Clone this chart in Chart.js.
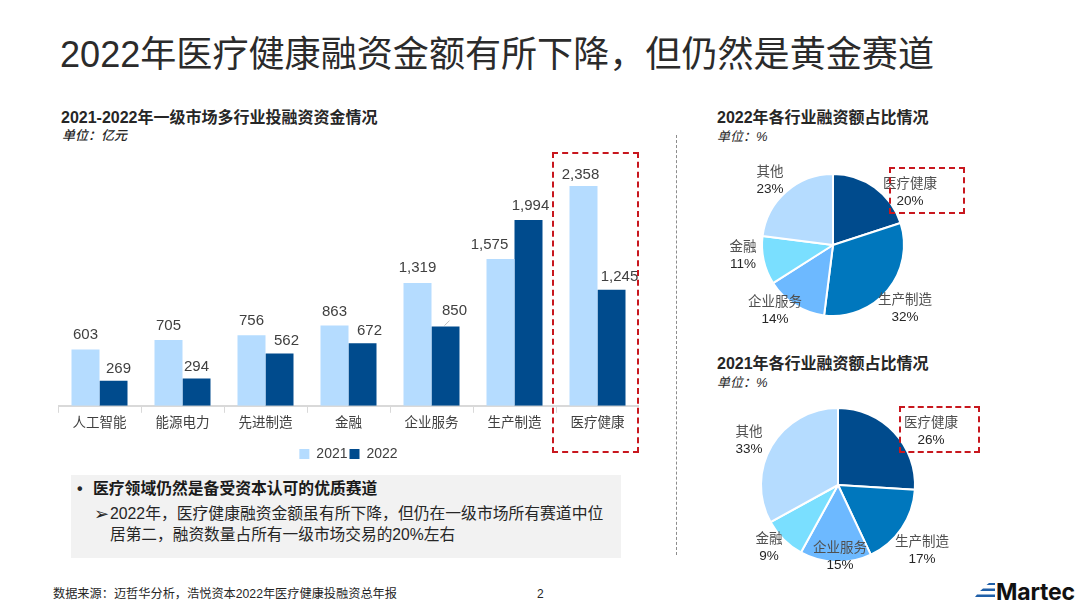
<!DOCTYPE html>
<html lang="zh-CN"><head><meta charset="utf-8">
<script src="https://cdn.jsdelivr.net/npm/chart.js@4"></script>
<style>
html,body{margin:0;padding:0;background:#fff}
body{width:1080px;height:608px;position:relative;overflow:hidden;font-family:"Liberation Sans","Noto Sans CJK SC",sans-serif;color:#262626}
.t{position:absolute;white-space:nowrap;line-height:1}
canvas{position:absolute}
.red{position:absolute;border:2px dashed #C8171E;box-sizing:border-box}
</style></head><body>
<div class="t" style="left:60px;top:37px;font-size:36.100px;color:#2b2b2b">2022年医疗健康融资金额有所下降，但仍然是黄金赛道</div>

<div class="t" style="left:61px;top:110px;font-size:16px;font-weight:bold">2021-2022年一级市场多行业投融资资金情况</div>
<div class="t" style="left:62px;top:129px;font-size:13px;font-style:italic;font-weight:500">单位：亿元</div>
<div class="t" style="left:717px;top:110px;font-size:16px;font-weight:bold">2022年各行业融资额占比情况</div>
<div class="t" style="left:717px;top:130px;font-size:13px;font-style:italic">单位：%</div>
<div class="t" style="left:717px;top:356px;font-size:16px;font-weight:bold">2021年各行业融资额占比情况</div>
<div class="t" style="left:717px;top:376px;font-size:13px;font-style:italic">单位：%</div>

<div style="position:absolute;left:676px;top:135px;height:420px;border-left:1px dashed #8c8c8c"></div>

<div style="position:absolute;left:71px;top:475px;width:550px;height:83px;background:#F2F2F2"></div>
<div class="t" style="left:77px;top:481px;font-size:16px;font-weight:bold">•</div>
<div class="t" style="left:93px;top:481px;font-size:15.800px;font-weight:bold;color:#1a1a1a">医疗领域仍然是备受资本认可的优质赛道</div>
<div class="t" style="left:94px;top:505px;font-size:18px">➢</div>
<div class="t" style="left:110px;top:506px;font-size:15.800px">2022年，医疗健康融资金额虽有所下降，但仍在一级市场所有赛道中位</div>
<div class="t" style="left:110px;top:527px;font-size:15.700px">居第二，融资数量占所有一级市场交易的20%左右</div>

<div class="t" style="left:53px;top:588px;font-size:12.200px">数据来源：迈哲华分析，浩悦资本2022年医疗健康投融资总年报</div>
<div class="t" style="left:537px;top:588px;font-size:12px">2</div>

<svg style="position:absolute;left:975px;top:580px" width="24" height="20">
<path d="M14 3H20V5H11.500Z M8 8.500H20V11H5Z M2 14.500H20V17H0Z" fill="#1F5FA8"/></svg>
<div class="t" style="left:996px;top:581px;font-size:23px;font-weight:bold;font-family:Inter,'Liberation Sans',sans-serif;color:#111;letter-spacing:-.2px">Martec</div>

<canvas id="bars" style="left:58px;top:150px" width="581" height="321"></canvas>
<canvas id="pie22" style="left:683px;top:145px" width="300" height="200"></canvas>
<canvas id="pie21" style="left:688px;top:385px" width="300" height="200"></canvas>

<div class="red" style="left:552px;top:152px;width:87px;height:301px"></div>
<div class="red" style="left:889px;top:167px;width:76px;height:47px"></div>
<div class="red" style="left:899px;top:406px;width:81px;height:47px"></div>

<script>
const categories = ["人工智能","能源电力","先进制造","金融","企业服务","生产制造","医疗健康"];
const seriesNames = ["2021","2022"];
const values2021 = [603,705,756,863,1319,1575,2358];
const values2022 = [269,294,562,672,850,1994,1245];
const pieNames = ["医疗健康","生产制造","企业服务","金融","其他"];
const share2022 = [20,32,14,11,23];
const share2021 = [26,17,15,9,33];

const BAR_LIGHT="#B5DCFF", BAR_DARK="#004B8D";
const PIE_COLORS=["#004B8D","#0077BD","#6DB9FF","#7ADFFF","#B5DCFF"];
const FONT='"Liberation Sans","Noto Sans CJK SC",sans-serif';

// label nudges (px) relative to the default position above each bar
const nudge = [
  {dx:[0,0,0,0,0,-11,-3], dy:[-1,0,0,0,-1,0,3]},
  {dx:[5,0,7,7,9,2,8],    dy:[2,2,1,2,-2,0,1]}
];
const barLabels = {
  id:"barLabels",
  afterDatasetsDraw(c){
    const g=c.ctx; g.save();
    g.font="15px "+FONT; g.fillStyle="#404040"; g.textAlign="center"; g.textBaseline="middle";
    c.data.datasets.forEach((ds,i)=>{
      c.getDatasetMeta(i).data.forEach((el,j)=>{
        const s=ds.data[j].toLocaleString("en-US");
        g.fillText(s, el.x+nudge[i].dx[j], el.y-14+nudge[i].dy[j]);
      });
    });
    // small leader line on the 850 label
    const e=c.getDatasetMeta(1).data[4];
    g.strokeStyle="#BFBFBF"; g.lineWidth=1; g.beginPath();
    g.moveTo(e.x-1,e.y-1); g.lineTo(e.x+4,e.y-6); g.stroke();
    g.restore();
  }
};
new Chart(document.getElementById("bars"),{
  type:"bar",
  data:{labels:categories,datasets:[
    {label:seriesNames[0],data:values2021,backgroundColor:BAR_LIGHT,categoryPercentage:56/83,barPercentage:1},
    {label:seriesNames[1],data:values2022,backgroundColor:BAR_DARK,categoryPercentage:56/83,barPercentage:1}
  ]},
  options:{responsive:false,animation:false,devicePixelRatio:1,
    layout:{padding:0},
    plugins:{tooltip:{enabled:false},
      legend:{position:"bottom",labels:{boxWidth:10,boxHeight:10,padding:2,color:"#404040",font:{size:14,family:FONT}}}},
    scales:{
      y:{display:false,min:0,max:2745},
      x:{grid:{drawOnChartArea:false,color:"#D9D9D9",tickLength:7,lineWidth:1},
         border:{color:"#D9D9D9",width:2},
         afterFit(s){s.height+=12;},
         ticks:{color:"#404040",font:{size:13.500,family:FONT},padding:2,maxRotation:0,autoSkip:false}}
    }
  },
  plugins:[barLabels]
});

function pieLabelPlugin(pos,originX,originY){
  return {id:"pieLabels",afterDatasetsDraw(c){
    const g=c.ctx; g.save(); g.textAlign="center"; g.textBaseline="middle";
    const d=c.data.datasets[0].data;
    c.data.labels.forEach((name,i)=>{
      const x=pos[i][0]-originX,y=pos[i][1]-originY;
      g.font="13.500px "+FONT; g.fillStyle="#505050"; g.fillText(name,x,y);
      g.font="13.500px "+FONT; g.fillStyle="#262626"; g.fillText(d[i]+"%",x,y+17);
    });
    g.restore();
  }};
}
function makePie(id,data,radius,pos,ox,oy){
  new Chart(document.getElementById(id),{
    type:"pie",
    data:{labels:pieNames,datasets:[{data:data,backgroundColor:PIE_COLORS,borderColor:"#fff",borderWidth:2,radius:radius}]},
    options:{responsive:false,animation:false,devicePixelRatio:1,layout:{padding:0},
      plugins:{legend:{display:false},tooltip:{enabled:false}}},
    plugins:[pieLabelPlugin(pos,ox,oy)]
  });
}
makePie("pie22",share2022,71,[[910,184],[905,300],[775,302],[743,247],[770,172]],683,145);
makePie("pie21",share2021,77,[[931,423],[922,542],[840,548],[769,539],[749,432]],688,385);
</script>
</body></html>
